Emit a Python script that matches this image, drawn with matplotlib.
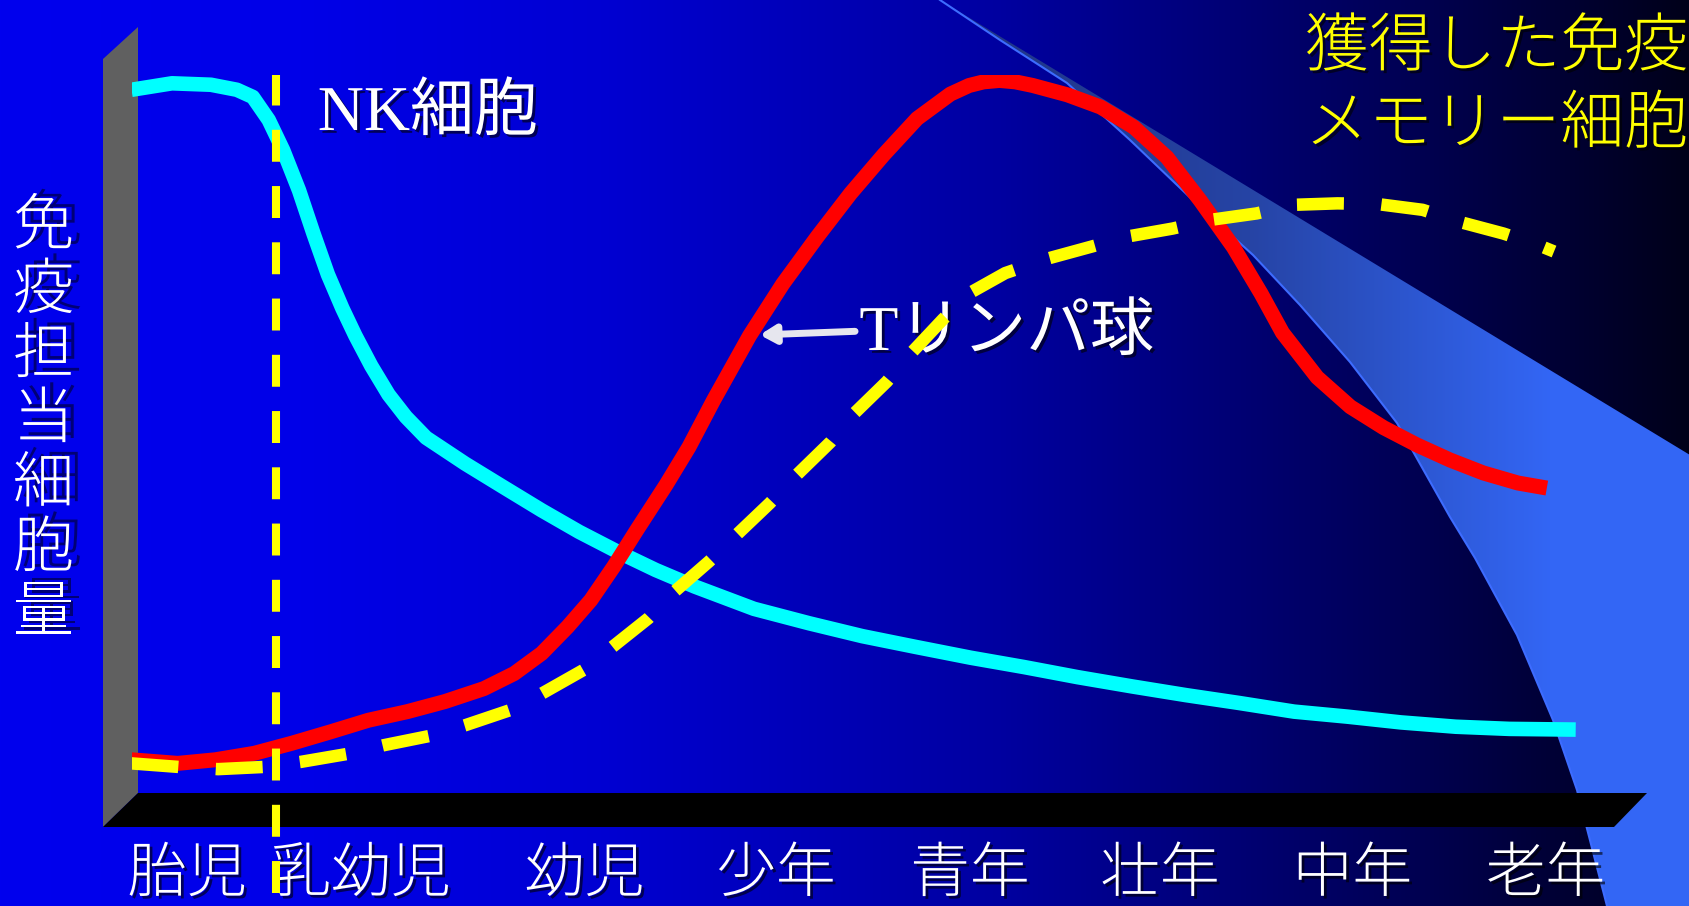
import numpy as np
import matplotlib
matplotlib.use('Agg')
import matplotlib.pyplot as plt
from matplotlib.patches import Polygon
import matplotlib.patheffects as pe

plt.rcParams['lines.scale_dashes'] = False

# ---- values (x: life stage 0-100, y: amount 0-100) ----
stages = ['胎児', '乳幼児', '幼児', '少年', '青年', '壮年', '中年', '老年']

nk_x = [0.0, 2.8, 5.5, 7.3, 8.4, 9.5, 10.5, 11.6, 12.6, 13.6, 14.6, 15.5, 16.6,
        17.8, 19.0, 20.4, 23.1, 25.7, 28.4, 31.0, 33.7, 36.3, 39.0, 43.1, 46.9,
        50.6, 54.3, 58.1, 61.8, 65.5, 69.3, 73.0, 76.7, 80.5, 84.2, 87.9, 91.7,
        95.4, 100.0]
nk_y = [98.0, 98.9, 98.7, 98.0, 97.0, 93.8, 89.6, 84.0, 78.0, 72.3, 67.6, 63.8, 59.6,
        55.6, 52.5, 49.6, 46.0, 42.8, 39.5, 36.5, 33.7, 31.2, 28.9, 25.8, 23.8,
        22.0, 20.5, 19.0, 17.7, 16.3, 15.0, 13.8, 12.7, 11.5, 10.8, 10.0, 9.4,
        9.1, 9.0]

t_x = [0.0, 3.2, 5.8, 8.5, 11.1, 13.8, 16.4, 19.1, 21.7, 24.4, 26.5, 28.4, 30.2,
       31.8, 33.4, 35.0, 37.0, 38.6, 40.3, 42.8, 45.1, 47.5, 49.8, 52.1, 54.4,
       56.7, 58.0, 59.0, 60.1, 61.2, 62.4, 64.8, 67.1, 69.4, 71.7, 74.0, 76.3,
       78.2, 79.7, 82.1, 84.4, 86.7, 89.0, 91.3, 93.6, 96.0, 98.0]
t_y = [4.8, 4.3, 4.8, 5.7, 7.1, 8.7, 10.3, 11.5, 12.9, 14.7, 16.8, 19.6, 23.3,
       27.0, 31.7, 36.8, 43.0, 48.3, 54.8, 63.8, 71.0, 77.6, 83.6, 89.0, 94.0,
       97.4, 98.6, 99.1, 99.3, 99.1, 98.6, 97.3, 95.6, 92.8, 88.6, 82.6, 76.1,
       69.7, 64.2, 58.0, 53.9, 51.0, 48.6, 46.5, 44.7, 43.3, 42.6]

mem_x = [0.0, 3.3, 6.0, 9.1, 11.7, 14.9, 17.4, 20.6, 23.1, 26.2, 28.4, 31.3, 33.3,
         35.8, 37.6, 40.0, 41.9, 44.2, 46.1, 48.4, 50.0, 52.3, 54.0, 56.2, 58.1,
         60.5, 63.4, 66.5, 69.0, 72.1, 74.7, 77.9, 80.5, 83.5, 86.3, 89.4, 92.0,
         95.0, 97.4, 98.5]
mem_y = [4.3, 3.8, 3.5, 3.8, 4.5, 5.6, 6.8, 8.1, 9.6, 11.7, 14.0, 17.3, 20.5,
         24.5, 28.2, 32.4, 36.1, 40.5, 44.5, 49.0, 52.9, 57.4, 61.4, 66.1, 69.8,
         72.5, 74.5, 76.2, 77.6, 78.7, 79.9, 80.8, 82.0, 82.2, 82.1, 81.3, 79.6,
         78.0, 76.4, 75.5]

birth_x = 10.0

W, H = 1690, 906
CJK = ['Noto Sans CJK JP', 'DejaVu Sans']
MIX = ['Liberation Serif', 'Noto Sans CJK JP', 'DejaVu Sans']
shadow = [pe.withSimplePatchShadow(offset=(2, -2), shadow_rgbFace='black', alpha=0.6)]

fig = plt.figure(figsize=(W / 100, H / 100), dpi=100)

# ---- slide decoration, in pixel coordinates ----
bg = fig.add_axes([0, 0, 1, 1])
cols = np.arange(W)
blue = np.interp(cols, [0, 300, 600, 1000, 1400, 1690], [238, 232, 210, 160, 85, 25]) / 255
grad = np.zeros((2, W, 3))
grad[..., 2] = blue
bg.imshow(grad, extent=[0, W, H, 0], aspect='auto', zorder=0)

# light beam behind the right side
edge = [(940, 0), (1000, 40), (1067, 83), (1130, 140), (1200, 207), (1253, 255),
        (1300, 305), (1350, 362), (1397, 423), (1450, 517), (1475, 558), (1517, 635),
        (1553, 720), (1577, 790), (1607, 906)]
beam = Polygon(edge + [(1690, 906), (1690, 455)], closed=True, facecolor='none',
               edgecolor='none')
bg.add_patch(beam)
stops = [940, 1250, 1400, 1550, 1690]
beam_rgb = np.array([[30, 50, 130], [38, 68, 165], [44, 85, 205], [51, 102, 245],
                     [51, 102, 245]]) / 255
bgrad = np.stack([np.interp(cols, stops, beam_rgb[:, k]) for k in range(3)], axis=-1)
bimg = bg.imshow(np.repeat(bgrad[None], 2, axis=0), extent=[0, W, H, 0],
                 aspect='auto', zorder=1)
bimg.set_clip_path(beam)
ex, ey = zip(*edge)
bg.plot(ex, ey, color='#3d6cff', lw=1.5, zorder=1.5)

# 3D axis: wall and floor
bg.add_patch(Polygon([(103, 59), (138, 27), (138, 793), (103, 827)],
                     facecolor='#606060', edgecolor='none', zorder=2))
bg.add_patch(Polygon([(138, 793), (1647, 793), (1614, 827), (103, 827)],
                     facecolor='black', edgecolor='none', zorder=3))

# y label, one character per row
ylab_shadow = [pe.withSimplePatchShadow(offset=(6, 3), shadow_rgbFace='black', alpha=0.5)]
for i, ch in enumerate('免疫担当細胞量'):
    bg.text(43.5, 244 + 64.5 * i, ch, color='white', fontsize=44, family=CJK,
            weight='light', ha='center', va='baseline', path_effects=ylab_shadow)

# stage labels under the floor
stage_cx = [187, 361, 584.5, 776, 970, 1160, 1352.5, 1545.5]
for cx, s in zip(stage_cx, stages):
    bg.text(cx, 906, s, color='white', fontsize=43, family=CJK, weight='light',
            ha='center', va='bottom', path_effects=shadow)

bg.text(1688, 65.7, '獲得した免疫', color='yellow', fontsize=46, family=CJK,
        weight='light', ha='right', va='baseline', path_effects=shadow)
bg.text(1688, 143, 'メモリー細胞', color='yellow', fontsize=46, family=CJK,
        weight='light', ha='right', va='baseline', path_effects=shadow)

bg.set_xlim(0, W)
bg.set_ylim(H, 0)
bg.axis('off')

# ---- the curves ----
ax = fig.add_axes([131.5 / W, 1 - 794.3 / H, (1575.7 - 131.5) / W, (794.3 - 75.4) / H])
ax.plot(nk_x, nk_y, color='#00ffff', lw=10.5, solid_capstyle='butt',
        solid_joinstyle='round', zorder=3)
ax.plot(t_x, t_y, color='#ff0000', lw=10.8, solid_capstyle='butt',
        solid_joinstyle='round', zorder=4)
ax.plot(mem_x, mem_y, color='#ffff00', lw=9, linestyle=(0, (33.8, 27)),
        dash_capstyle='butt', zorder=6)
ax.axvline(birth_x, ymin=-0.1366, ymax=1.0012, color='#ffff00', lw=5.8,
           linestyle=(0, (23, 17.5)), dash_capstyle='butt', clip_on=False, zorder=7)

ax.text(12.9, 92.4, 'NK細胞', color='white', fontsize=46, family=MIX,
        va='baseline', path_effects=shadow, zorder=5)
ax.text(50.4, 61.8, 'Tリンパ球', color='white', fontsize=46, family=MIX,
        va='baseline', path_effects=shadow, zorder=5)
ax.annotate('', xy=(43.5, 63.9), xytext=(50.1, 64.4),
            arrowprops=dict(arrowstyle='-|>,head_length=0.6,head_width=0.35',
                            color='#e6e6ee', lw=5, mutation_scale=15,
                            shrinkA=0, shrinkB=0), zorder=5)

ax.set_xlim(0, 100)
ax.set_ylim(0, 100)
ax.axis('off')

fig.savefig('out.png', dpi=100)
